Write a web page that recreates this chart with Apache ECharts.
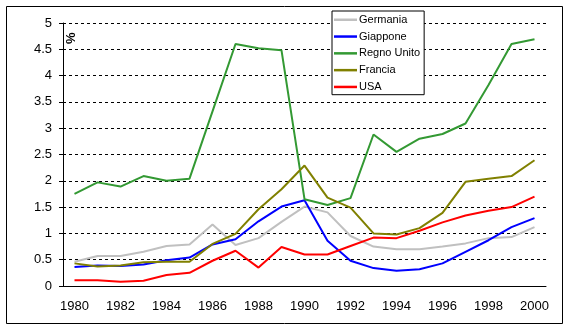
<!DOCTYPE html>
<html>
<head>
<meta charset="utf-8">
<script src="https://cdn.jsdelivr.net/npm/echarts@6/dist/echarts.min.js"></script>
<style>
html,body{margin:0;padding:0;background:#fff;}
#c{width:567px;height:329px;}
</style>
</head>
<body>
<div id="c"></div>
<script>
var years = ['1980','1981','1982','1983','1984','1985','1986','1987','1988','1989','1990','1991','1992','1993','1994','1995','1996','1997','1998','1999','2000'];
var germania = [0.46,0.57,0.57,0.65,0.76,0.79,1.17,0.78,0.91,1.22,1.51,1.40,0.95,0.75,0.70,0.70,0.75,0.81,0.91,0.93,1.12];
var giappone = [0.36,0.39,0.38,0.41,0.49,0.54,0.79,0.89,1.23,1.51,1.63,0.86,0.48,0.34,0.29,0.32,0.43,0.65,0.87,1.12,1.29];
var regnoUnito = [1.75,1.97,1.89,2.09,2.00,2.04,3.32,4.60,4.52,4.48,1.65,1.54,1.67,2.88,2.55,2.80,2.89,3.09,3.82,4.60,4.69];
var francia = [0.43,0.37,0.39,0.45,0.46,0.46,0.80,0.99,1.46,1.84,2.29,1.68,1.49,1.00,0.98,1.10,1.39,1.98,2.04,2.09,2.39];
var usa = [0.11,0.11,0.08,0.10,0.21,0.25,0.48,0.67,0.35,0.74,0.60,0.60,0.76,0.92,0.91,1.05,1.21,1.34,1.43,1.50,1.70];
var seriesNames = ['Germania','Giappone','Regno Unito','Francia','USA'];
var seriesColors = ['#C0C0C0','#0000FF','#339933','#808000','#FF0000'];
var seriesData = [germania, giappone, regnoUnito, francia, usa];

var font = "'Liberation Sans', Arial, sans-serif";
var chart = echarts.init(document.getElementById('c'));
var series = seriesNames.map(function(n, i){
  return {
    name: n, type: 'line', data: seriesData[i], symbol: 'none',
    lineStyle: {color: seriesColors[i], width: 2},
    itemStyle: {color: seriesColors[i]},
    animation: false, z: 3
  };
});
chart.setOption({
  backgroundColor: '#fff',
  animation: false,
  textStyle: {fontFamily: font},
  grid: {left: 63, right: 21, top: 23, bottom: 43},
  graphic: [
    {type: 'rect', shape: {x: 6.5, y: 6.5, width: 556, height: 317}, style: {fill: 'none', stroke: '#000', lineWidth: 1}, z: 0},
    {type: 'text', x: 65, y: 44, rotation: Math.PI/2, style: {text: '%', font: "bold 13px 'Liberation Sans', Arial", fill: '#000'}, z: 10}
  ],
  legend: {
    orient: 'vertical', left: 332, top: 11,
    data: seriesNames.map(function(n){ return {name: n, icon: 'rect'}; }),
    itemWidth: 23, itemHeight: 2.5, itemGap: 3.3,
    padding: [2, 4, 1, 2],
    borderColor: '#000', borderWidth: 1, backgroundColor: '#fff',
    textStyle: {fontFamily: font, fontSize: 11, color: '#000', lineHeight: 13.5, padding: [0,0,0,-3]},
    z: 10
  },
  xAxis: {
    type: 'category', data: years, boundaryGap: true,
    axisLine: {lineStyle: {color: '#000', width: 1}},
    axisTick: {interval: 1, length: 4, lineStyle: {color: '#000'}},
    axisLabel: {interval: 1, color: '#000', fontSize: 13, fontFamily: font, margin: 14},
    splitLine: {show: false}
  },
  yAxis: {
    type: 'value', min: 0, max: 5, interval: 0.5,
    axisLine: {show: true, lineStyle: {color: '#000', width: 1}},
    axisTick: {show: true, length: 4, lineStyle: {color: '#000'}},
    axisLabel: {color: '#000', fontSize: 13, fontFamily: font, margin: 11},
    splitLine: {show: true, lineStyle: {color: '#000', type: [3,3], width: 1}}
  },
  series: series
});
</script>
</body>
</html>
